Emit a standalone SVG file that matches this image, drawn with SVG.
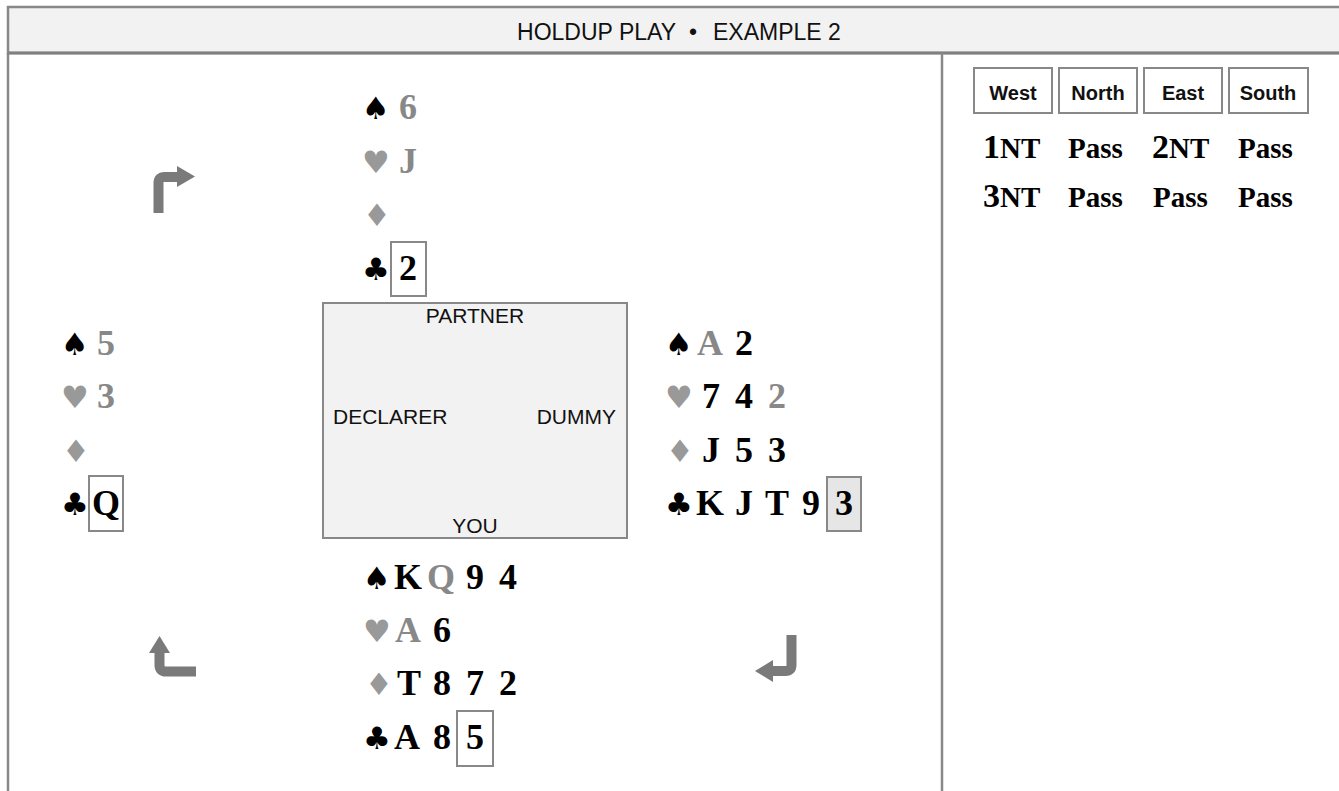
<svg xmlns="http://www.w3.org/2000/svg" width="1339" height="791" viewBox="0 0 1339 791">
<style>
.frame{fill:none;stroke:#888;stroke-width:2.5}
.hdr{fill:#f2f2f2;stroke:#888;stroke-width:2.5}
.sans{font-family:"Liberation Sans",Arial,sans-serif;fill:#111}
.title{font-size:23px}
.seat{font-size:21px}
.bidh{font-size:20px;font-weight:bold;text-anchor:middle}
.bbox{fill:#fff;stroke:#888;stroke-width:2}
.bid{font-family:"Liberation Serif","Times New Roman",serif;font-weight:bold;font-size:29px;fill:#000}
.big{font-size:34px}
.card{font-family:"Liberation Serif","Times New Roman",serif;font-weight:bold;font-size:36px;fill:#000}
.g{fill:#888}
.suit{font-family:"DejaVu Sans",sans-serif;font-size:31px;fill:#000}
.gs{fill:#999}
.cbox{fill:#fff;stroke:#888;stroke-width:2}
.cboxf{fill:#e6e6e6;stroke:#888;stroke-width:2}
.tbl{fill:#f2f2f2;stroke:#888;stroke-width:2}
.arr{fill:none;stroke:#7a7a7a;stroke-width:10}
.ah{fill:#7a7a7a}
</style>
<rect width="1339" height="791" fill="#fff"/>
<g id="frame">
<rect class="hdr" x="8" y="7" width="1345" height="46"/>
<line x1="8" y1="53" x2="1339" y2="53" stroke="#808080" stroke-width="3"/>
<line class="frame" x1="8" y1="53" x2="8" y2="795"/>
<line class="frame" x1="942" y1="53" x2="942" y2="795"/>
<text class="sans title" x="676" y="40" text-anchor="end">HOLDUP PLAY</text>
<text class="sans title" x="693" y="40" text-anchor="middle">•</text>
<text class="sans title" x="713" y="40">EXAMPLE 2</text>
</g>
<g id="table">
<rect class="tbl" x="323" y="303" width="304" height="235"/>
<text class="sans seat" x="475" y="323" text-anchor="middle">PARTNER</text>
<text class="sans seat" x="333" y="424">DECLARER</text>
<text class="sans seat" x="616" y="424" text-anchor="end">DUMMY</text>
<text class="sans seat" x="475" y="533" text-anchor="middle">YOU</text>
</g>
<g id="hand-north">
<text class="suit" x="362" y="119">♠</text><text class="card g" x="399" y="119">6</text>
<text class="suit gs" x="362" y="173">♥</text><text class="card g" x="399" y="173">J</text>
<text class="suit gs" x="363" y="226">♦</text>
<text class="suit" x="362" y="280">♣</text>
<rect class="cbox" x="391" y="242" width="35" height="54"/><text class="card" x="399" y="280">2</text>
</g>
<g id="hand-west">
<text class="suit" x="61" y="355">♠</text><text class="card g" x="97" y="355">5</text>
<text class="suit gs" x="61" y="408">♥</text><text class="card g" x="97" y="408">3</text>
<text class="suit gs" x="62" y="462">♦</text>
<text class="suit" x="61" y="515">♣</text>
<rect class="cbox" x="89" y="476" width="34" height="55"/><text class="card" x="92" y="515">Q</text>
</g>
<g id="hand-east">
<text class="suit" x="665" y="355">♠</text><text class="card g" x="697" y="355">A</text><text class="card" x="735" y="355">2</text>
<text class="suit gs" x="665" y="408">♥</text><text class="card" x="702" y="408">7</text><text class="card" x="735" y="408">4</text><text class="card g" x="768" y="408">2</text>
<text class="suit gs" x="666" y="462">♦</text><text class="card" x="702" y="462">J</text><text class="card" x="735" y="462">5</text><text class="card" x="768" y="462">3</text>
<text class="suit" x="665" y="515">♣</text><text class="card" x="696" y="515">K</text><text class="card" x="735" y="515">J</text><text class="card" x="765" y="515">T</text><text class="card" x="802" y="515">9</text>
<rect class="cboxf" x="827" y="477" width="34" height="54"/><text class="card" x="835" y="515">3</text>
</g>
<g id="hand-south">
<text class="suit" x="363" y="589">♠</text><text class="card" x="394" y="589">K</text><text class="card g" x="427" y="589">Q</text><text class="card" x="466" y="589">9</text><text class="card" x="499" y="589">4</text>
<text class="suit gs" x="363" y="642">♥</text><text class="card g" x="395" y="642">A</text><text class="card" x="433" y="642">6</text>
<text class="suit gs" x="365" y="695">♦</text><text class="card" x="397" y="695">T</text><text class="card" x="433" y="695">8</text><text class="card" x="466" y="695">7</text><text class="card" x="499" y="695">2</text>
<text class="suit" x="363" y="749">♣</text><text class="card" x="394" y="749">A</text><text class="card" x="433" y="749">8</text>
<rect class="cbox" x="457" y="711" width="36" height="55"/><text class="card" x="466" y="749">5</text>
</g>
<g id="bidding">
<rect class="bbox" x="974" y="68" width="78" height="45"/>
<rect class="bbox" x="1059" y="68" width="78" height="45"/>
<rect class="bbox" x="1144" y="68" width="78" height="45"/>
<rect class="bbox" x="1229" y="68" width="79" height="45"/>
<text class="sans bidh" x="1013" y="100">West</text>
<text class="sans bidh" x="1098" y="100">North</text>
<text class="sans bidh" x="1183" y="100">East</text>
<text class="sans bidh" x="1268" y="100">South</text>
<text class="bid" x="983" y="158"><tspan class="big">1</tspan>NT</text>
<text class="bid" x="1068" y="158">Pass</text>
<text class="bid" x="1152" y="158"><tspan class="big">2</tspan>NT</text>
<text class="bid" x="1238" y="158">Pass</text>
<text class="bid" x="983" y="207"><tspan class="big">3</tspan>NT</text>
<text class="bid" x="1068" y="207">Pass</text>
<text class="bid" x="1153" y="207">Pass</text>
<text class="bid" x="1238" y="207">Pass</text>
</g>
<g id="connectors">
<path class="arr" d="M158.5 213 V183 Q158.5 177 164.5 177 H179"/>
<polygon class="ah" points="177,166 195,176.5 177,187"/>
<path class="arr" d="M159.5 652 V665 Q159.5 671.5 166 671.5 H196"/>
<polygon class="ah" points="149,653 159.5,636 170,653"/>
<path class="arr" d="M791.5 635 V665 Q791.5 671 785.5 671 H771"/>
<polygon class="ah" points="773,660 755,671 773,682"/>
</g>
</svg>
